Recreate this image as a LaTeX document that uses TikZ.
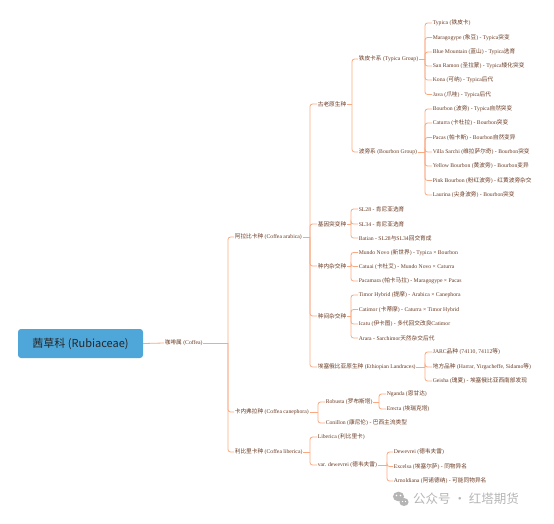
\documentclass[tikz,border=0pt]{standalone}
\usepackage{fontspec}
\setmainfont{Liberation Serif}
\newfontfamily\cjkf{Noto Sans CJK SC}
\XeTeXinterchartokenstate=1
\newXeTeXintercharclass\cjkcls
\makeatletter
\count@="3000
\loop
  \XeTeXcharclass\count@=\cjkcls
  \advance\count@ by 1
\ifnum\count@<"A000 \repeat
\count@="FF00
\loop
  \XeTeXcharclass\count@=\cjkcls
  \advance\count@ by 1
\ifnum\count@<"FFF0 \repeat
\makeatother
\XeTeXinterchartoks 0 \cjkcls = {\cjkf}
\XeTeXinterchartoks 4095 \cjkcls = {\cjkf}
\XeTeXinterchartoks \cjkcls 0 = {\rmfamily}
\XeTeXinterchartoks \cjkcls 4095 = {\rmfamily}
\definecolor{txt}{HTML}{6A3B24}
\definecolor{ln}{HTML}{F8A982}
\definecolor{rootfill}{HTML}{4FA6D8}
\definecolor{wm}{HTML}{B5B5B5}
\tikzset{
  lbl/.style={anchor=west,inner sep=0.6pt,text=txt,font=\fontsize{5.7}{6.8}\selectfont},
  conn/.style={draw=ln,line width=0.8pt,rounded corners=2.5pt},
}
\begin{document}
\begin{tikzpicture}[x=1pt,y=-1pt]
\useasboundingbox (0,0) rectangle (554,523);
% root
\node[fill=rootfill,rounded corners=3pt,minimum width=125pt,minimum height=29pt,inner sep=0pt,
  text=black!85,font={\XeTeXinterchartokenstate=0 \cjkf\fontsize{11}{13}\selectfont}] (root) at (80.5,343.5) {茜草科 (Rubiaceae)};
\node[lbl] (coffea) at (164,343) {咖啡属 (Coffea)};
% level 2
\node[lbl] (arab) at (234,237) {阿拉比卡种 (Coffea arabica)};
\node[lbl] (cane) at (234,412) {卡内弗拉种 (Coffea canephora)};
\node[lbl] (libe) at (234,452) {利比里卡种 (Coffea liberica)};
% arabica children
\node[lbl] (old) at (317,104) {古老原生种};
\node[lbl] (mut) at (317,224) {基因突变种};
\node[lbl] (intra) at (317,266) {种内杂交种};
\node[lbl] (inter) at (317,316) {种间杂交种};
\node[lbl] (eth) at (317,367) {埃塞俄比亚原生种 (Ethiopian Landraces)};
% old
\node[lbl] (typg) at (358,59) {铁皮卡系 (Typica Group)};
\node[lbl] (bourg) at (358,152) {波旁系 (Bourbon Group)};
% typica group
\node[lbl] (t1) at (432,23) {Typica (铁皮卡)};
\node[lbl] (t2) at (432,37.5) {Maragogype (象豆) - Typica突变};
\node[lbl] (t3) at (432,52) {Blue Mountain (蓝山) - Typica选育};
\node[lbl] (t4) at (432,66) {San Ramon (圣拉蒙) - Typica矮化突变};
\node[lbl] (t5) at (432,80) {Kona (可纳) - Typica后代};
\node[lbl] (t6) at (432,94.5) {Java (爪哇) - Typica后代};
% bourbon group
\node[lbl] (b1) at (432,109) {Bourbon (波旁) - Typica自然突变};
\node[lbl] (b2) at (432,123) {Caturra (卡杜拉) - Bourbon突变};
\node[lbl] (b3) at (432,137.5) {Pacas (帕卡斯) - Bourbon自然变异};
\node[lbl] (b4) at (432,152) {Villa Sarchi (维拉萨尔奇) - Bourbon突变};
\node[lbl] (b5) at (432,166) {Yellow Bourbon (黄波旁) - Bourbon变异};
\node[lbl] (b6) at (432,180.5) {Pink Bourbon (粉红波旁) - 红黄波旁杂交};
\node[lbl] (b7) at (432,195) {Laurina (尖身波旁) - Bourbon突变};
% mutations
\node[lbl] (m1) at (358,209) {SL28 - 肯尼亚选育};
\node[lbl] (m2) at (358,224) {SL34 - 肯尼亚选育};
\node[lbl] (m3) at (358,238) {Batian - SL28与SL34回交育成};
% intra
\node[lbl] (i1) at (358,252.5) {Mundo Novo (新世界) - Typica × Bourbon};
\node[lbl] (i2) at (358,266.5) {Catuai (卡杜艾) - Mundo Novo × Caturra};
\node[lbl] (i3) at (358,281) {Pacamara (帕卡马拉) - Maragogype × Pacas};
% inter
\node[lbl] (h1) at (358,295) {Timor Hybrid (提摩) - Arabica × Canephora};
\node[lbl] (h2) at (358,309.5) {Catimor (卡蒂摩) - Caturra × Timor Hybrid};
\node[lbl] (h3) at (358,324) {Icatu (伊卡图) - 多代回交改良Catimor};
\node[lbl] (h4) at (358,338) {Arara - Sarchimor天然杂交后代};
% ethiopian
\node[lbl] (e1) at (432,352) {JARC品种 (74110, 74112等)};
\node[lbl] (e2) at (432,367) {地方品种 (Harrar, Yirgacheffe, Sidamo等)};
\node[lbl] (e3) at (432,381) {Geisha (瑰夏) - 埃塞俄比亚西南部发现};
% canephora
\node[lbl] (rob) at (325,402) {Robusta (罗布斯塔)};
\node[lbl] (con) at (325,423) {Conillon (康尼伦) - 巴西主流类型};
\node[lbl] (ng) at (386,394) {Nganda (恩甘达)};
\node[lbl] (er) at (386,409) {Erecta (埃瑞克塔)};
% liberica
\node[lbl] (lib) at (317,437) {Liberica (利比里卡)};
\node[lbl] (dew) at (317,465) {var. dewevrei (德韦夫雷)};
\node[lbl] (d1) at (393,452) {Dewevrei (德韦夫雷)};
\node[lbl] (d2) at (393,466.5) {Excelsa (埃塞尔萨) - 同物异名};
\node[lbl] (d3) at (393,481) {Arnoldiana (阿诺德纳) - 可能同物异名};
% bus coordinates
\coordinate (B0) at (228,0);
\coordinate (B1) at (310,0);
\coordinate (B2) at (352,0);
\coordinate (B3) at (425,0);
\coordinate (B4) at (351,0);
\coordinate (B5) at (318,0);
\coordinate (B6) at (379,0);
\coordinate (B7) at (387,0);
% connectors
\draw[conn] (root.east) -- (coffea.west);
\draw[conn] (coffea.east) -- (coffea.east -| B0);
\foreach \c in {arab,cane,libe} \draw[conn] (coffea.east -| B0) |- (\c.west);
\draw[conn] (arab.east) -- (arab.east -| B1);
\foreach \c in {old,mut,intra,inter,eth} \draw[conn] (arab.east -| B1) |- (\c.west);
\draw[conn] (old.east) -- (old.east -| B2);
\foreach \c in {typg,bourg} \draw[conn] (old.east -| B2) |- (\c.west);
\draw[conn] (typg.east) -- (typg.east -| B3);
\foreach \c in {t1,t2,t3,t4,t5,t6} \draw[conn] (typg.east -| B3) |- (\c.west);
\draw[conn] (bourg.east) -- (bourg.east -| B3);
\foreach \c in {b1,b2,b3,b4,b5,b6,b7} \draw[conn] (bourg.east -| B3) |- (\c.west);
\draw[conn] (mut.east) -- (mut.east -| B4);
\foreach \c in {m1,m2,m3} \draw[conn] (mut.east -| B4) |- (\c.west);
\draw[conn] (intra.east) -- (intra.east -| B4);
\foreach \c in {i1,i2,i3} \draw[conn] (intra.east -| B4) |- (\c.west);
\draw[conn] (inter.east) -- (inter.east -| B4);
\foreach \c in {h1,h2,h3,h4} \draw[conn] (inter.east -| B4) |- (\c.west);
\draw[conn] (eth.east) -- (eth.east -| B3);
\foreach \c in {e1,e2,e3} \draw[conn] (eth.east -| B3) |- (\c.west);
\draw[conn] (cane.east) -- (cane.east -| B5);
\foreach \c in {rob,con} \draw[conn] (cane.east -| B5) |- (\c.west);
\draw[conn] (rob.east) -- (rob.east -| B6);
\foreach \c in {ng,er} \draw[conn] (rob.east -| B6) |- (\c.west);
\draw[conn] (libe.east) -- (libe.east -| B1);
\foreach \c in {lib,dew} \draw[conn] (libe.east -| B1) |- (\c.west);
\draw[conn] (dew.east) -- (dew.east -| B7);
\foreach \c in {d1,d2,d3} \draw[conn] (dew.east -| B7) |- (\c.west);
% watermark
\fill[wm] (398.5,496.5) ellipse (5.6pt and 4.8pt);
\fill[wm] (404,502) ellipse (4.6pt and 4pt);
\fill[white] (396.5,495.5) circle (0.8pt) (400.5,495.5) circle (0.8pt);
\fill[white] (402.5,501.5) circle (0.6pt) (405.5,501.5) circle (0.6pt);
\node[anchor=west,inner sep=0pt,text=wm,font={\XeTeXinterchartokenstate=0 \cjkf\fontsize{12.5}{14}\selectfont}] (wmk) at (413,499) {公众号 · 红塔期货};
\end{tikzpicture}
\end{document}
